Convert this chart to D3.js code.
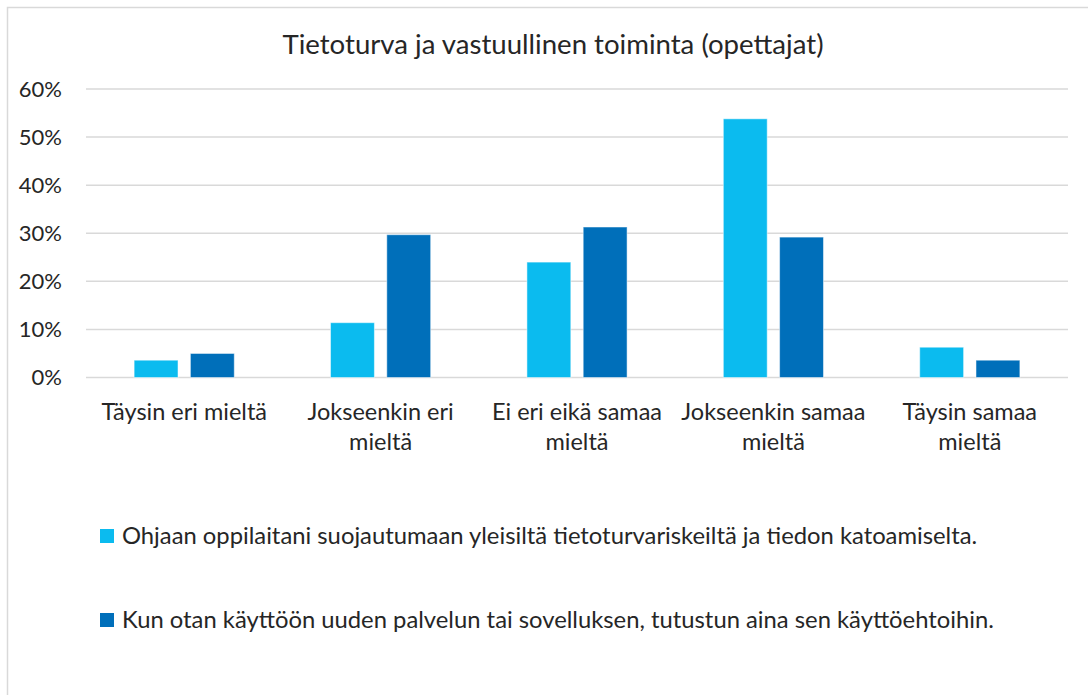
<!DOCTYPE html>
<html>
<head>
<meta charset="utf-8">
<script src="https://cdn.jsdelivr.net/npm/d3@7"></script>
<style>
  body { margin: 0; background: #fff; }
  text { font-family: Lato, "Open Sans", sans-serif; fill: #262626; }
</style>
</head>
<body>
<script>
const categories = ['Täysin eri mieltä', 'Jokseenkin eri mieltä', 'Ei eri eikä samaa mieltä', 'Jokseenkin samaa mieltä', 'Täysin samaa mieltä']
const categoryLines = [['Täysin eri mieltä'], ['Jokseenkin eri', 'mieltä'], ['Ei eri eikä samaa', 'mieltä'], ['Jokseenkin samaa', 'mieltä'], ['Täysin samaa', 'mieltä']]
const seriesNames = [
    'Ohjaan oppilaitani suojautumaan yleisiltä tietoturvariskeiltä ja tiedon katoamiselta.',
    'Kun otan käyttöön uuden palvelun tai sovelluksen, tutustun aina sen käyttöehtoihin.'
]
const ohjaan = [3.6, 11.4, 24.0, 53.8, 6.3]
const kayttoehdot = [5.0, 29.7, 31.3, 29.2, 3.6]
const yTicks = [0, 10, 20, 30, 40, 50, 60]
const colors = ['#0BBBEF', '#006FBA']

const W = 1088, H = 695
const margin = { top: 89, right: 20, bottom: 317, left: 86 }
const width = 1068 - margin.left
const height = 377.5 - margin.top

const svg = d3.select('body').append('svg')
    .attr('width', W)
    .attr('height', H)

// chart frame
svg.append('rect')
    .attr('x', 7.5).attr('y', 7.5)
    .attr('width', W + 10).attr('height', H + 10)
    .style('fill', 'none')
    .style('stroke', '#d9d9d9')
    .style('stroke-width', 1.5)

svg.append('text')
    .attr('x', 553)
    .attr('y', 54)
    .style('text-anchor', 'middle')
    .style('font-size', '27.6px')
    .text('Tietoturva ja vastuullinen toiminta (opettajat)')

const g = svg.append('g')
    .attr('transform', `translate(${margin.left}, ${margin.top})`)

const xScale = d3.scaleBand()
    .domain(categories)
    .range([0, width])
    .paddingInner(0.49)
    .paddingOuter(0.245)

const xSub = d3.scaleBand()
    .domain([0, 1])
    .range([0, xScale.bandwidth()])
    .paddingInner(0.22)

const yScale = d3.scaleLinear()
    .domain([0, 60])
    .range([height, 0])

// gridlines
g.append('g')
    .selectAll('line')
    .data(yTicks)
    .enter().append('line')
    .attr('x1', 0)
    .attr('x2', width)
    .attr('y1', d => yScale(d))
    .attr('y2', d => yScale(d))
    .style('stroke', '#d9d9d9')
    .style('stroke-width', 1.5)

const yAxis = g.append('g')
    .call(d3.axisLeft(yScale).tickValues(yTicks).tickFormat(d => d + '%').tickSize(0).tickPadding(24))
yAxis.select('.domain').remove()
yAxis.selectAll('text')
    .style('font-family', 'Lato, sans-serif')
    .style('font-size', '22px')
    .style('fill', '#262626')

const series = [ohjaan, kayttoehdot]
series.forEach((vals, s) => {
    g.selectAll('.bar' + s)
        .data(vals)
        .enter().append('rect')
        .attr('class', 'bar' + s)
        .attr('x', (d, i) => xScale(categories[i]) + xSub(s))
        .attr('y', d => yScale(d))
        .attr('width', xSub.bandwidth())
        .attr('height', d => height - yScale(d))
        .style('fill', colors[s])
        .style('stroke', '#ffffff')
        .style('stroke-opacity', 0.5)
        .style('stroke-width', 1)
})

// category labels
const xLabels = g.selectAll('.xlabel')
    .data(categories)
    .enter().append('text')
    .attr('class', 'xlabel')
    .attr('x', d => xScale(d) + xScale.bandwidth() / 2)
    .attr('y', height + 42)
    .style('text-anchor', 'middle')
    .style('font-size', '23.5px')
xLabels.each(function (d, i) {
    d3.select(this).selectAll('tspan')
        .data(categoryLines[i])
        .enter().append('tspan')
        .attr('x', xScale(d) + xScale.bandwidth() / 2)
        .attr('dy', (t, j) => j === 0 ? 0 : 30)
        .text(t => t)
})

// legend
const legend = svg.selectAll('.legend')
    .data(seriesNames)
    .enter().append('g')
    .attr('class', 'legend')
    .attr('transform', (d, i) => `translate(100, ${529 + i * 84})`)
legend.append('rect')
    .attr('width', 14)
    .attr('height', 14)
    .style('fill', (d, i) => colors[i])
legend.append('text')
    .attr('x', 22)
    .attr('y', 7)
    .attr('dy', '0.35em')
    .style('font-size', '23.8px')
    .text(d => d)
</script>
</body>
</html>
